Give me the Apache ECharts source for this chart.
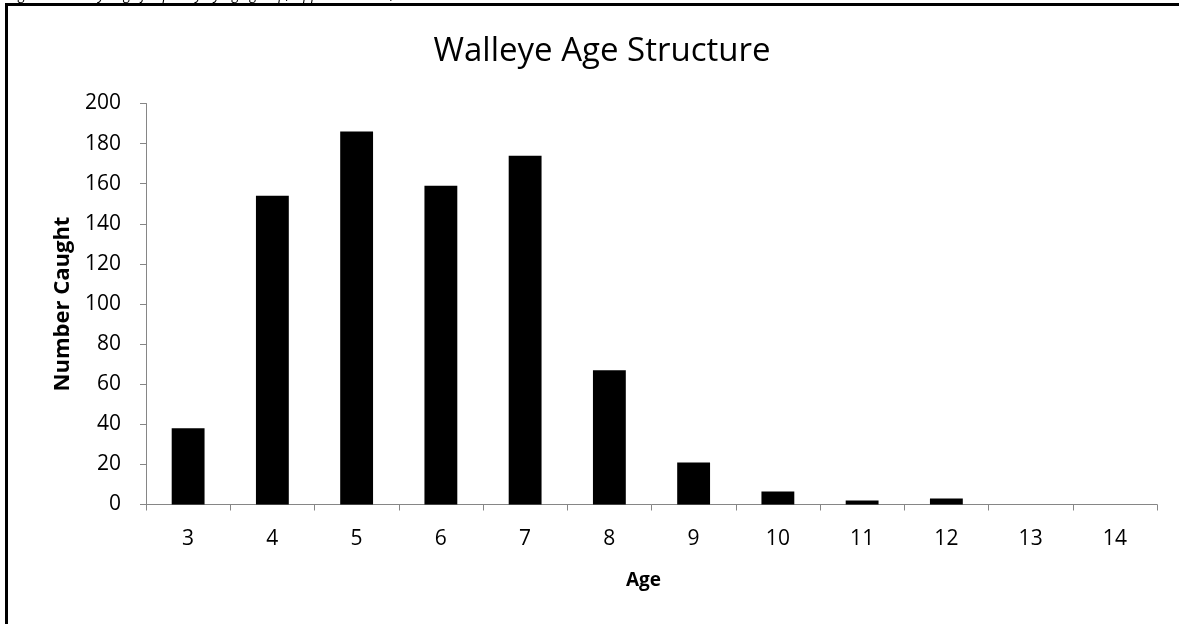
<!DOCTYPE html>
<html>
<head>
<meta charset="utf-8">
<script src="https://cdn.jsdelivr.net/npm/echarts@6/dist/echarts.min.js"></script>
<style>
html,body{margin:0;padding:0;background:#fff;}
#chart{width:1179px;height:624px;}
</style>
</head>
<body>
<div id="chart"></div>
<script>
const ages = ['3','4','5','6','7','8','9','10','11','12','13','14'];
const numberCaught = [38, 154, 186, 159, 174, 67, 21, 6.5, 2, 3, 0, 0];
const yTicks = { min: 0, max: 200, interval: 20 };
const titleText = 'Walleye Age Structure';
const xAxisName = 'Age';
const yAxisName = 'Number Caught';
const captionText = 'Figure 2. Walleye age frequency by age group, Upper Red Lake, 2019.';

const FONT = '"Open Sans", "Liberation Sans", sans-serif';
const chart = echarts.init(document.getElementById('chart'), null, {renderer: 'canvas'});
chart.setOption({
  animation: false,
  backgroundColor: '#fff',
  title: {
    text: titleText,
    left: 597, top: 30, textAlign: 'center',
    textStyle: {fontFamily: FONT, fontSize: 33, fontWeight: 'normal', color: '#000'}
  },
  grid: {left: 146, right: 22, top: 103.5, bottom: 119.5, containLabel: false},
  xAxis: {
    type: 'category',
    data: ages,
    name: xAxisName,
    nameLocation: 'middle',
    nameGap: 67,
    nameTextStyle: {fontFamily: FONT, fontSize: 19, fontWeight: 'bold', color: '#000', padding: [0, 16, 0, 0]},
    axisLine: {show: true, lineStyle: {color: '#868686', width: 1}},
    axisTick: {show: true, alignWithLabel: false, length: 6, lineStyle: {color: '#868686'}},
    axisLabel: {fontFamily: FONT, fontSize: 21, color: '#000', margin: 24},
    splitLine: {show: false}
  },
  yAxis: {
    type: 'value',
    min: yTicks.min, max: yTicks.max, interval: yTicks.interval,
    name: yAxisName,
    nameLocation: 'middle',
    nameGap: 72,
    nameRotate: 90,
    nameTextStyle: {fontFamily: FONT, fontSize: 22, fontWeight: 'bold', color: '#000'},
    axisLine: {show: true, lineStyle: {color: '#868686', width: 1}},
    axisTick: {show: true, length: 6, lineStyle: {color: '#868686'}},
    axisLabel: {fontFamily: FONT, fontSize: 21, color: '#000', margin: 25},
    splitLine: {show: false}
  },
  series: [{
    type: 'bar',
    data: numberCaught,
    barCategoryGap: '61%',
    itemStyle: {color: '#000'}
  }],
  graphic: [
    {type: 'rect', shape: {x: 5, y: 3, width: 1174, height: 3}, style: {fill: '#000'}, z: 100},
    {type: 'rect', shape: {x: 5, y: 3, width: 3, height: 621}, style: {fill: '#000'}, z: 100},
    {type: 'text', x: 8, y: -12, style: {text: captionText, font: 'italic 14px ' + FONT, fill: '#000'}, z: 100}
  ]
});
</script>
</body>
</html>
